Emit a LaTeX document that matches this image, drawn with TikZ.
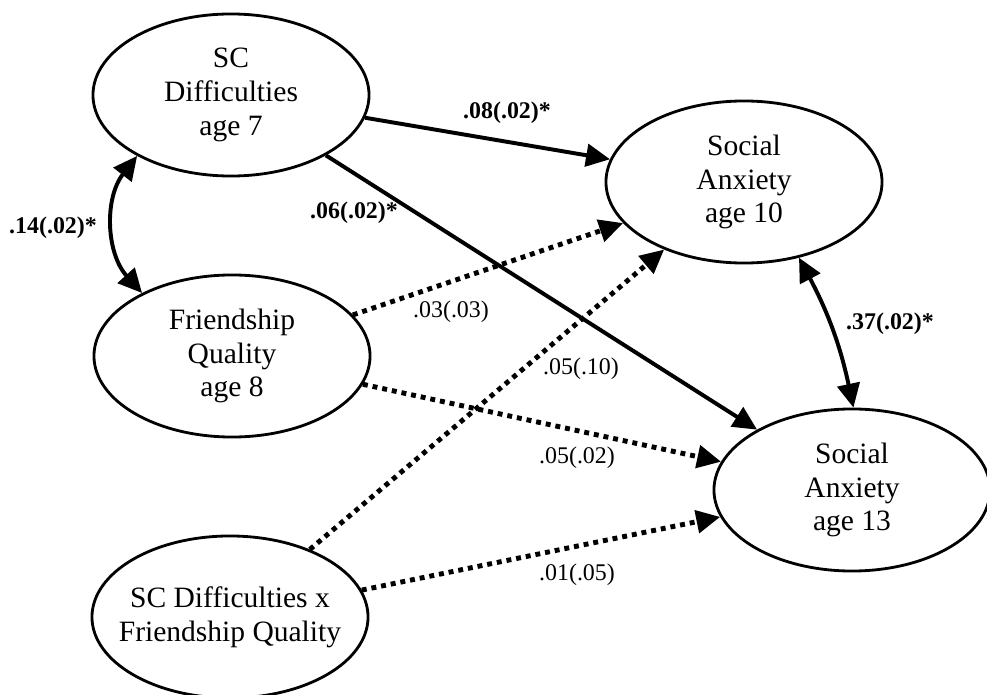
\documentclass[tikz,border=0pt]{standalone}
\usepackage{fontspec}
\setmainfont{Liberation Serif}
\usetikzlibrary{shapes.geometric,arrows.meta}

\begin{document}
\begin{tikzpicture}[x=0.025cm,y=0.025cm,
  var/.style={ellipse,draw,line width=2pt,minimum width=6.9cm,minimum height=4.05cm,
    inner xsep=-0.5cm,inner ysep=0pt,align=center,font=\fontsize{21}{24}\selectfont},
  sig/.style={line width=2.8pt,-{Triangle[length=17pt,width=16pt]}},
  ns/.style={line width=3.5pt,dash pattern=on 3.5pt off 3.5pt,-{Triangle[length=17pt,width=16pt]}},
  cov/.style={line width=2.8pt,{Triangle[length=17pt,width=16pt]}-{Triangle[length=17pt,width=16pt]}},
  est/.style={font=\fontsize{17}{20}\selectfont\bfseries},
  nsest/.style={font=\fontsize{17}{20}\selectfont}]
\useasboundingbox (0,0) rectangle (987,-695);
\node [var] (sc7) at (231,-95) {SC\\Difficulties\\age 7};
\node [var] (fq8) at (232,-356) {Friendship\\Quality\\age 8};
\node [var] (scxfq) at (230,-617) {SC Difficulties x\\Friendship Quality};
\node [var] (sa10) at (744,-182) {Social\\Anxiety\\age 10};
\node [var] (sa13) at (852,-490) {Social\\Anxiety\\age 13};
% paths
\draw [sig] (sc7) -- (sa10);
\draw [sig] (sc7) -- (sa13);
\draw [ns] (fq8) -- (sa10);
\draw [ns] (fq8) -- (sa13);
\draw [ns] (scxfq) -- (sa10);
\draw [ns] (scxfq) -- (sa13);
\draw [cov] (sc7.213) to[bend right=40] (fq8.145);
\draw [cov] (sa10.306) to[bend left=8] (sa13.89);
% estimates
\node [est] (e1) at (507,-113) {.08(.02)*};
\node [est] (e2) at (354,-213) {.06(.02)*};
\node [est] (e3) at (53,-228) {.14(.02)*};
\node [est] (e4) at (890,-324) {.37(.02)*};
\node [nsest] (e5) at (451,-312) {.03(.03)};
\node [nsest] (e6) at (581,-369) {.05(.10)};
\node [nsest] (e7) at (577,-458) {.05(.02)};
\node [nsest] (e8) at (577,-575) {.01(.05)};
\end{tikzpicture}
\end{document}
